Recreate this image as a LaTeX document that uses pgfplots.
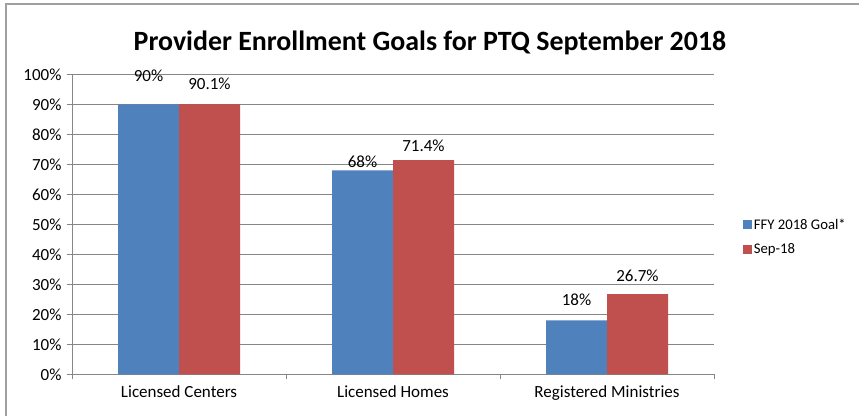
\documentclass[border=0pt]{standalone}
\usepackage{pgfplots}
\pgfplotsset{compat=1.18}
\usepackage{fontspec}
\setmainfont{Carlito}
\definecolor{xblue}{HTML}{4F81BD}
\definecolor{xred}{HTML}{C0504D}
\definecolor{xgrid}{HTML}{868686}
\definecolor{xframe}{HTML}{A0A0A0}
\begin{document}
\begin{tikzpicture}[x=1pt,y=1pt]
\path[use as bounding box] (0,0) rectangle (859,416);
\fill[white] (0,0) rectangle (859,416);
\draw[xframe, line width=2pt] (5.5,0) -- (5.5,411.5) -- (859,411.5);
\node[font=\fontsize{27.9}{32}\selectfont\bfseries] at (430,373) {Provider Enrollment Goals for PTQ September 2018};
\begin{axis}[
  at={(72pt,41.7pt)}, anchor=south west,
  scale only axis, width=642pt, height=300pt,
  xmin=-0.5, xmax=2.5, ymin=0, ymax=100,
  clip=false,
  ybar=0pt, bar width=61pt,
  axis x line*=bottom, axis y line*=left,
  axis line style={xgrid, line width=0.9pt},
  ytick={0,10,...,100},
  yticklabel={\pgfmathprintnumber{\tick}\%},
  /pgf/number format/assume math mode=true,
  ymajorgrids, grid style={xgrid, line width=0.9pt},
  tick align=outside,
  ytick style={xgrid, line width=0.9pt},
  major tick length=5pt,
  xtick={0,1,2},
  xticklabels={Licensed Centers, Licensed Homes, Registered Ministries},
  xtick style={draw=none},
  extra x ticks={-0.5,0.5,1.5,2.5},
  extra x tick labels={},
  extra x tick style={xtick style={draw=xgrid, line width=0.9pt}, major tick length=5pt},
  ticklabel style={font=\fontsize{17}{20}\selectfont},
  xticklabel style={yshift=-3pt},
  yticklabel style={xshift=-2pt},
  legend style={at={(1.04,0.458)}, anchor=west, draw=none, fill=none,
    font=\fontsize{14.7}{18}\selectfont, row sep=9pt,
    legend cell align=left},
  legend image code/.code={\fill[#1] (0pt,-4.5pt) rectangle (9pt,4.5pt);},
]
\addplot[fill=xblue, draw=none] coordinates {(0,90) (1,68) (2,18)};
\addlegendentry{FFY 2018 Goal*}
\addplot[fill=xred, draw=none] coordinates {(0,90.1) (1,71.4) (2,26.7)};
\addlegendentry{Sep-18}
\begin{scope}[every node/.style={font=\fontsize{17}{20}\selectfont}]
\node at (axis cs:-0.1425,99.5) {90\%};
\node at (axis cs:0.1425,96.8) {90.1\%};
\node at (axis cs:0.8575,70.8) {68\%};
\node at (axis cs:1.1425,76.2) {71.4\%};
\node at (axis cs:1.8575,24.8) {18\%};
\node at (axis cs:2.1425,32.8) {26.7\%};
\end{scope}
\end{axis}
\end{tikzpicture}
\end{document}
